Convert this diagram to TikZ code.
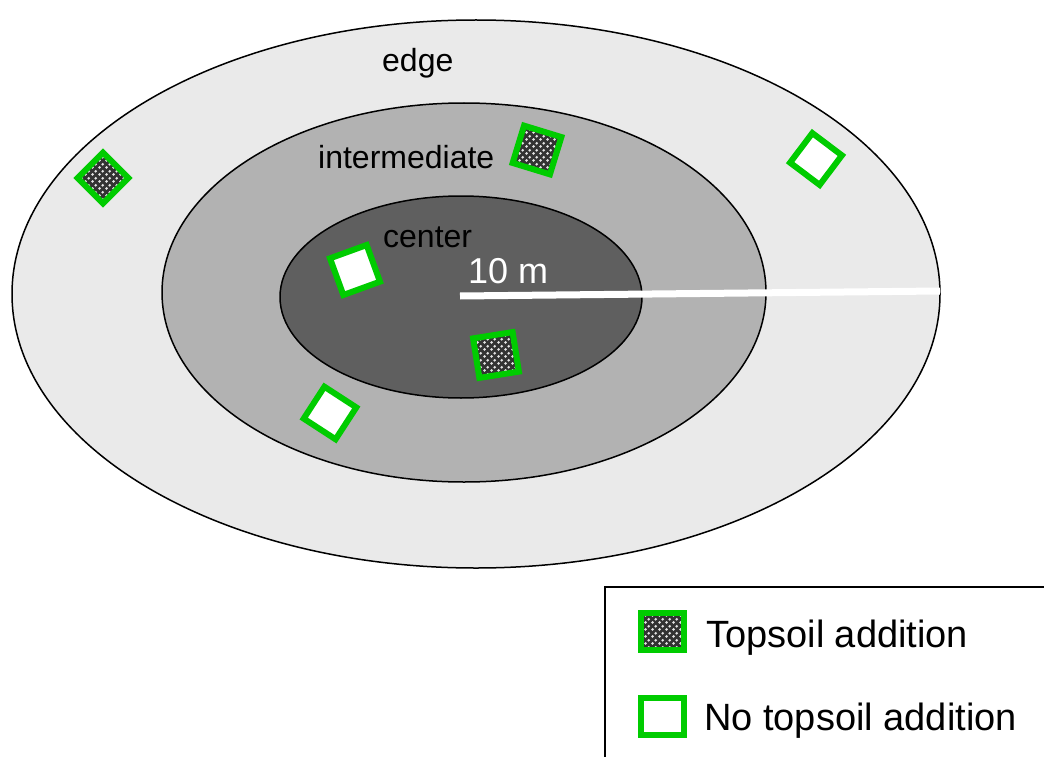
\documentclass[tikz,border=0pt]{standalone}
\usepackage{fontspec}
\setmainfont{Liberation Sans}
\usetikzlibrary{shapes.geometric,patterns}
\pgfdeclarepatternformonly{soil}{\pgfqpoint{0pt}{0pt}}{\pgfqpoint{7pt}{7pt}}{\pgfqpoint{7pt}{7pt}}{%
  \pgfpathcircle{\pgfqpoint{1.75pt}{1.75pt}}{1.6pt}%
  \pgfpathcircle{\pgfqpoint{5.25pt}{5.25pt}}{1.6pt}%
  \pgfusepath{fill}}
\definecolor{edgegray}{HTML}{EAEAEA}
\definecolor{midgray}{HTML}{B2B2B2}
\definecolor{centergray}{HTML}{5F5F5F}
\definecolor{plotgreen}{HTML}{00CC00}
\tikzset{
  zone/.style={ellipse, draw=black, line width=1.5pt, inner sep=0pt},
  plotbox/.style={rectangle, draw=plotgreen, line width=6pt, inner sep=0pt, minimum size=38pt},
  topsoil/.style={plotbox, preaction={fill=black!80}, pattern=soil, pattern color=white!90!black},
  notopsoil/.style={plotbox, fill=white},
  zonelabel/.style={anchor=base west, inner sep=0pt, font=\fontsize{32}{38}\selectfont},
  legendlabel/.style={anchor=base west, inner sep=0pt, font=\fontsize{38}{45}\selectfont}
}
\begin{document}
\begin{tikzpicture}[x=1pt,y=-1pt]
\useasboundingbox (0,0) rectangle (1044,757);
\clip (0,0) rectangle (1044,757);
% zones
\node[zone, fill=edgegray, minimum width=928pt, minimum height=548pt] (outer) at (476,294) {};
\node[zone, fill=midgray, minimum width=604pt, minimum height=379pt] (middle) at (464,292.5) {};
\node[zone, fill=centergray, minimum width=362pt, minimum height=202pt] (inner) at (461,297) {};
% radius
\coordinate (r0) at (460,296);
\coordinate (r1) at (940,291);
\draw[white, line width=7pt] (r0) -- (r1);
\node[zonelabel, text=white, font=\fontsize{36}{43}\selectfont] (rlab) at (468,283) {10 m};
% zone labels
\node[zonelabel] (ledge) at (382,72) {edge};
\node[zonelabel] (lint) at (318,168) {intermediate};
\node[zonelabel] (lcen) at (383,247) {center};
% plots
\node[topsoil, minimum size=36pt, rotate=45] (p1) at (103,178) {};
\node[topsoil, minimum size=39pt, rotate=-17] (p2) at (537,150) {};
\node[notopsoil, minimum size=37pt, rotate=-37] (p3) at (816,159) {};
\node[notopsoil, minimum size=39pt, rotate=20] (p4) at (355,270) {};
\node[topsoil, minimum size=40pt, rotate=9] (p5) at (496,355) {};
\node[notopsoil, minimum size=38pt, rotate=-33] (p6) at (330,413) {};
% legend
\node[draw=black, line width=2pt, anchor=north west, minimum width=500pt, minimum height=220pt, inner sep=0pt] (legend) at (604,586) {};
\node[topsoil, minimum width=43pt, minimum height=37pt] (k1) at (662.5,631.5) {};
\node[notopsoil, minimum width=43pt, minimum height=37pt] (k2) at (662.5,716) {};
\node[legendlabel] (t1) at (706,647) {Topsoil addition};
\node[legendlabel] (t2) at (704,730) {No topsoil addition};
\end{tikzpicture}
\end{document}
